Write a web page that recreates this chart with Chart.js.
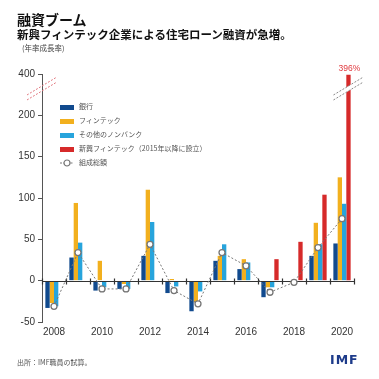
<!DOCTYPE html>
<html>
<head>
<meta charset="utf-8">
<script src="https://cdn.jsdelivr.net/npm/chart.js@4/dist/chart.umd.min.js"></script>
<style>
  body { margin: 0; background: #fff; }
  #wrap { position: relative; width: 379px; height: 379px; overflow: hidden; }
  #wrap canvas { position: absolute; left: 0; top: 0; }
  .txt { position: absolute; white-space: nowrap; line-height: 1; font-family: "Noto Sans CJK JP", sans-serif; }
  .leg { position: absolute; left: 60px; font-family: "Noto Sans CJK JP", sans-serif; font-size: 7px; color: #555; line-height: 1; white-space: nowrap; }
  .leg i { display: inline-block; width: 14px; height: 5px; vertical-align: middle; margin-right: 5px; }
  .leg svg { vertical-align: middle; margin-right: 5px; }
</style>
</head>
<body>
<div id="wrap">
  <canvas id="chart" width="379" height="379"></canvas>
  <div class="txt" style="left:17px;top:12px;font-size:14px;font-weight:700;color:#111">融資ブーム</div>
  <div class="txt" style="left:17px;top:29px;font-size:11.5px;font-weight:700;color:#111">新興フィンテック企業による住宅ローン融資が急増。</div>
  <div class="txt" style="left:22px;top:44px;font-size:7.5px;color:#444">(年率成長率)</div>
  <div id="legend"></div>
  <div class="txt" style="left:17px;top:359px;font-size:7px;color:#555">出所：IMF職員の試算。</div>
  <div class="txt" style="left:330px;top:354px;font-size:12.5px;font-weight:700;letter-spacing:1px;color:#1d3b8a;font-family:'DejaVu Sans',sans-serif">IMF</div>
</div>
<script>
// データ
const years = ["2008","2009","2010","2011","2012","2013","2014","2015","2016","2017","2018","2019","2020"];
const banks = [-33, 28, -12, -10, 30, -15, -37, 24, 14, -20, -1, 30, 45];
const fintech = [-27, 94, 24, -4, 110, 2, -26, 30, 26, -8, -2, 70, 125];
const otherNonbanks = [-31, 46, -8, -10, 71, -7, -13, 44, 22, -8, -1, 44, 93];
const newFintech = [null, null, null, null, null, null, null, null, null, 26, 47, 104, 396];
const totalOrigination = [-31, 34, -10, -10, 44, -12, -28, 34, 18, -14, -2, 40, 75];
const yTickValues = [-50, 0, 50, 100, 150, 200, 400];

const seriesNames = ["銀行", "フィンテック", "その他のノンバンク", "新興フィンテック（2015年以降に設立）", "組成総額"];
const colors = ["#114a8e", "#f2b01e", "#27a4dc", "#d62a2a"];

// 軸の省略 (200より上は縮める)
const BREAK_FROM = 200;
const BREAK_SQUEEZE = 4;
const BREAK_AT = 330;
const toAxis = v => v == null ? null : (v <= BREAK_FROM ? v : BREAK_FROM + (v - BREAK_FROM) / BREAK_SQUEEZE);
const fromAxis = v => v <= BREAK_FROM ? v : BREAK_FROM + (v - BREAK_FROM) * BREAK_SQUEEZE;

// 凡例 (HTML)
const legend = document.getElementById("legend");
const legendTops = [103, 117, 131, 145, 159];
seriesNames.forEach((name, i) => {
  const d = document.createElement("div");
  d.className = "leg";
  d.style.top = legendTops[i] + "px";
  if (i < 4) {
    d.innerHTML = '<i style="background:' + colors[i] + '"></i>' + name;
  } else {
    d.innerHTML = '<svg width="14" height="8"><line x1="0" y1="4" x2="14" y2="4" stroke="#777" stroke-dasharray="2,1.5"/><circle cx="7" cy="4" r="3" fill="#fff" stroke="#777" stroke-width="1.2"/></svg>' + name;
  }
  legend.appendChild(d);
});

const overlay = {
  id: "overlay",
  beforeDatasetDraw(chart, args) {
    if (args.index !== 4) return;
    // 0の横軸と目盛り
    const { ctx, chartArea, scales: { x, y } } = chart;
    const y0 = Math.round(y.getPixelForValue(0)) + 0.5;
    ctx.save();
    ctx.strokeStyle = "#333";
    ctx.lineWidth = 1.2;
    ctx.beginPath();
    ctx.moveTo(chartArea.left, y0);
    ctx.lineTo(chartArea.right + 1, y0);
    for (let i = 0; i <= years.length; i++) {
      const px = Math.round(x.getPixelForValue(i - 0.5)) + 0.5;
      ctx.moveTo(px, y0 - 3);
      ctx.lineTo(px, y0 + 3);
    }
    ctx.stroke();
    ctx.restore();
  },
  afterDatasetsDraw(chart) {
    const { ctx, chartArea, scales: { y } } = chart;
    const yb = y.getPixelForValue(toAxis(BREAK_AT));
    ctx.save();
    ctx.lineWidth = 1;
    ctx.setLineDash([2, 1.5]);
    // 縦軸の省略記号
    ctx.strokeStyle = "#e27a82";
    const ax = chartArea.left;
    [-2.5, 2.5].forEach(o => {
      ctx.beginPath();
      ctx.moveTo(ax - 15, yb + 9 + o);
      ctx.lineTo(ax + 15, yb - 9 + o);
      ctx.stroke();
    });
    // 2020年の棒の省略記号
    const bar = chart.getDatasetMeta(3).data[years.length - 1];
    const bx = bar.x;
    ctx.setLineDash([]);
    ctx.fillStyle = "#fff";
    ctx.beginPath();
    ctx.moveTo(bx - 15, yb + 9 - 2.5);
    ctx.lineTo(bx + 15, yb - 9 - 2.5);
    ctx.lineTo(bx + 15, yb - 9 + 2.5);
    ctx.lineTo(bx - 15, yb + 9 + 2.5);
    ctx.closePath();
    ctx.fill();
    ctx.setLineDash([2, 1.5]);
    ctx.strokeStyle = "#888";
    [-2.5, 2.5].forEach(o => {
      ctx.beginPath();
      ctx.moveTo(bx - 15, yb + 9 + o);
      ctx.lineTo(bx + 15, yb - 9 + o);
      ctx.stroke();
    });
    // 396%
    ctx.fillStyle = "#e0393e";
    ctx.font = "8.5px 'Liberation Sans', sans-serif";
    ctx.textAlign = "center";
    ctx.textBaseline = "bottom";
    ctx.fillText(newFintech[years.length - 1] + "%", bx + 1, bar.y - 2);
    ctx.restore();
  }
};

const barSets = [banks, fintech, otherNonbanks, newFintech].map((arr, i) => ({
  label: seriesNames[i],
  data: arr.map(toAxis),
  backgroundColor: colors[i],
  categoryPercentage: 0.72,
  barPercentage: 1.0,
  order: 1
}));

new Chart(document.getElementById("chart"), {
  type: "bar",
  data: {
    labels: years,
    datasets: [
      ...barSets,
      {
        type: "line",
        label: seriesNames[4],
        data: totalOrigination.map(toAxis),
        borderColor: "#777",
        borderWidth: 1,
        borderDash: [2, 2],
        pointRadius: 3,
        pointBackgroundColor: "#fff",
        pointBorderColor: "#777",
        pointBorderWidth: 1.3,
        tension: 0,
        order: 0
      }
    ]
  },
  options: {
    responsive: false,
    animation: false,
    layout: { padding: { top: 74, right: 25, bottom: 39, left: 0 } },
    plugins: { legend: { display: false }, tooltip: { enabled: false } },
    scales: {
      x: {
        grid: { display: false, drawTicks: false },
        border: { display: false },
        ticks: {
          autoSkip: false,
          maxRotation: 0,
          padding: 4,
          color: "#333",
          font: { family: "'Liberation Sans', sans-serif", size: 10 },
          callback: (v, i) => (i % 2 === 0 ? years[i] : "")
        },
        afterFit: s => { s.height = 18; }
      },
      y: {
        min: toAxis(yTickValues[0]),
        max: toAxis(yTickValues[yTickValues.length - 1]),
        afterBuildTicks: s => { s.ticks = yTickValues.map(v => ({ value: toAxis(v) })); },
        grid: { drawOnChartArea: false, tickLength: 4, color: "#555" },
        border: { color: "#555" },
        ticks: {
          padding: 3,
          color: "#333",
          font: { family: "'Liberation Sans', sans-serif", size: 10 },
          callback: v => String(fromAxis(v))
        },
        afterFit: s => { s.width = 42; }
      }
    }
  },
  plugins: [overlay]
});
</script>
</body>
</html>
